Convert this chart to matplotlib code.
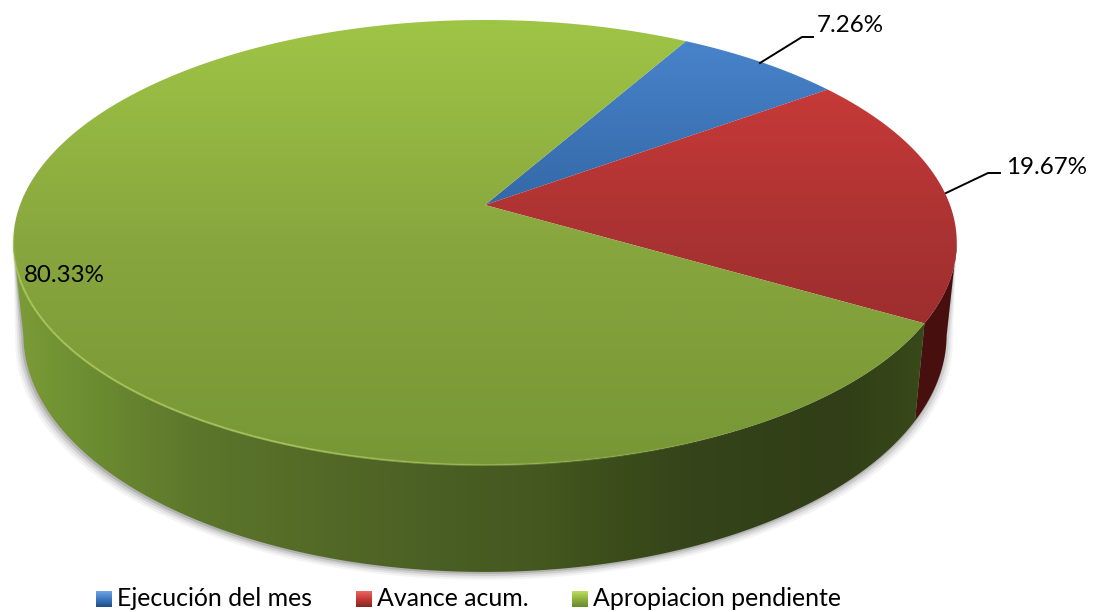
import numpy as np
import matplotlib
matplotlib.use('Agg')
import matplotlib.pyplot as plt
from matplotlib.colors import LinearSegmentedColormap
from matplotlib.patches import Polygon

# Datos del grafico
labels = ['Ejecución del mes', 'Avance acum.', 'Apropiacion pendiente']
values = [7.26, 19.67, 80.33]
value_text = ['7.26%', '19.67%', '80.33%']

plt.rcParams['font.family'] = ['Lato', 'DejaVu Sans']

fig = plt.figure(figsize=(10.99, 6.12), dpi=100)
ax = fig.add_axes([0, 0, 1, 1])
ax.set_xlim(0, 1099)
ax.set_ylim(612, 0)
ax.axis('off')

start = 60.3
cx = 485
c = 0.1685


def rim(theta, rx=465, ry=222.5, yc=242.5, off=37.5):
    # circulo unidad visto en perspectiva
    t = np.radians(theta)
    d = 1 + c * np.sin(t)
    x = cx + rx * np.cos(t) / d
    y = yc - (ry * np.sin(t) + off) / d
    return x, y


def rim_low(theta):
    return rim(theta, rx=455, ry=237, yc=332, off=37.5)


def paint(poly, colors, extent, vertical=True, zorder=2):
    cmap = LinearSegmentedColormap.from_list('g', colors)
    grad = np.linspace(0, 1, 512).reshape(-1, 1) if vertical else np.linspace(0, 1, 512).reshape(1, -1)
    im = ax.imshow(grad, cmap=cmap, extent=extent, aspect='auto', zorder=zorder, interpolation='bilinear')
    patch = Polygon(poly, closed=True, transform=ax.transData, fc='none', ec='none')
    ax.add_patch(patch)
    im.set_clip_path(patch)


top_colors = [['#4b86cf', '#2f639f', '#24507f'],
              ['#d33d3a', '#a93232', '#8a2726'],
              ['#9fc546', '#88a63e', '#779736']]
wall_red = ['#551313', '#480f0f']
# color de la pared verde segun x (de 12 a 957)
wall_green = [(0.0, '#7c9c37'), (0.07, '#6e8f32'), (0.195, '#5c762b'), (0.32, '#546a27'),
              (0.44, '#4b6024'), (0.567, '#43571f'), (0.63, '#3c4e1b'), (0.72, '#35441a'),
              (0.875, '#313e17'), (1.0, '#3a4d1a')]
wall_colors = [None, wall_red, wall_green]

# angulos de cada porcion
total = sum(values)
edges = [start]
for v in values:
    edges.append(edges[-1] - v / total * 360)

# sombra
th = np.linspace(-170, -10, 200)
xt, yt = rim(th)
for grow, a in [(7, 0.05), (5, 0.08), (3, 0.12), (1, 0.18)]:
    xl, yl = rim_low(th)
    pts = np.column_stack([cx + (xl - cx) * (1 + grow / 455) - 1, yl + grow + 1])
    ax.add_patch(Polygon(np.vstack([pts, np.column_stack([xt, yt])[::-1]]), closed=True,
                         fc='#303030', ec='none', alpha=a, zorder=1))

# paredes
for i in [1, 2]:
    hi = min(edges[i], -10)
    lo = max(edges[i + 1], -170)
    th = np.linspace(hi, lo, 200)
    xt, yt = rim(th)
    xb, yb = rim_low(th)
    poly = np.vstack([np.column_stack([xt, yt]), np.column_stack([xb, yb])[::-1]])
    paint(poly, wall_colors[i], (12, 957, 600, 200), vertical=False, zorder=2)

# tapa
for i in range(3):
    th = np.linspace(edges[i], edges[i + 1], 400)
    xs, ys = rim(th)
    ay = rim(0, rx=0)[1]
    poly = np.vstack([[cx, ay], np.column_stack([xs, ys])])
    paint(poly, top_colors[i], (12, 957, 465, 20), vertical=True, zorder=3)

# brillo del borde, se desvanece hacia la derecha y en el extremo izquierdo
th = np.linspace(-60, -175, 116)
xs, ys = rim(th)
for k in range(len(th) - 1):
    if th[k] > -110:
        a = 0.7 * (-60 - th[k]) / 50
    elif th[k] > -160:
        a = 0.7
    else:
        a = 0.7 * (th[k] + 175) / 15
    ax.plot(xs[k:k + 2], ys[k:k + 2], color='#b4d062', lw=1.5, alpha=a, zorder=4,
            solid_capstyle='butt')

# lineas guia y etiquetas
ax.plot([760, 802, 813], [63, 37, 37], color='black', lw=1.4, zorder=5)
ax.plot([946, 988, 1000], [193, 173, 173], color='black', lw=1.4, zorder=5)
ax.text(850, 25.5, value_text[0], fontsize=17.4, ha='center', va='center', color='black', zorder=6)
ax.text(1047, 167.5, value_text[1], fontsize=17.4, ha='center', va='center', color='black', zorder=6)
ax.text(64, 275.5, value_text[2], fontsize=17.4, ha='center', va='center', color='black', zorder=6)

# leyenda
marker_colors = [['#6ea5e8', '#3f78c0', '#1f4d86'],
                 ['#ee6460', '#c43a36', '#862523'],
                 ['#bde060', '#8fb040', '#688a2c']]
marker_x = [96, 356, 572]
for i in range(3):
    x0 = marker_x[i]
    sq = np.array([[x0, 591], [x0 + 16, 591], [x0 + 16, 607], [x0, 607]])
    paint(sq, marker_colors[i], (x0, x0 + 16, 607, 591), vertical=True, zorder=5)
    ax.text(x0 + 21, 598.5, labels[i], fontsize=17.9, ha='left', va='center', color='black', zorder=6)

ax.set_xlim(0, 1099)
ax.set_ylim(612, 0)
fig.savefig('out.png', dpi=100)
